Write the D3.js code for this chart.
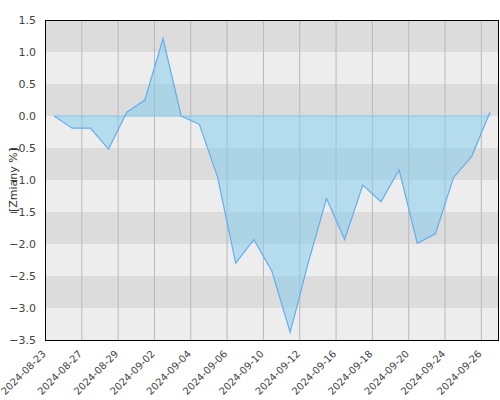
<!DOCTYPE html>
<html>
<head>
<meta charset="utf-8">
<script src="https://cdn.jsdelivr.net/npm/d3@7"></script>
<style>
  body { margin: 0; background: #fff; }
  svg text { font-family: 'DejaVu Sans', sans-serif; }
</style>
</head>
<body>
<div id="chart"></div>
<script>
// trading days shown on the x axis (one band each)
const dates = [
  '2024-08-23', '2024-08-26', '2024-08-27', '2024-08-28', '2024-08-29',
  '2024-08-30', '2024-09-02', '2024-09-03', '2024-09-04', '2024-09-05',
  '2024-09-06', '2024-09-09', '2024-09-10', '2024-09-11', '2024-09-12',
  '2024-09-13', '2024-09-16', '2024-09-17', '2024-09-18', '2024-09-19',
  '2024-09-20', '2024-09-23', '2024-09-24', '2024-09-25', '2024-09-26',
];
// daily change in %
const changes = [
  0.0, -0.19, -0.19, -0.52, 0.06,
  0.25, 1.21, 0.0, -0.13, -0.95,
  -2.3, -1.93, -2.43, -3.38, -2.29,
  -1.29, -1.93, -1.08, -1.34, -0.84,
  -1.99, -1.84, -0.96, -0.63, 0.06,
];
const yTicks = [1.5, 1.0, 0.5, 0.0, -0.5, -1.0, -1.5, -2.0, -2.5, -3.0, -3.5];
const tickDates = dates.filter((d, i) => i % 2 === 0);

const width = 500;
const height = 400;
const margin = { top: 20, right: 1, bottom: 60, left: 45 };

const svg = d3.select('#chart').append('svg').attr('width', width).attr('height', height);

const x = d3
  .scaleBand()
  .domain(dates)
  .range([margin.left, width - margin.right])
  .paddingInner(0)
  .paddingOuter(0);

const y = d3
  .scaleLinear()
  .domain([-3.5, 1.5])
  .range([height - margin.bottom, margin.top]);

const data = dates.map((d, i) => ({ date: d, value: changes[i] }));

// alternating horizontal stripes
const stripes = d3.range(yTicks.length - 1).map((i) => ({ hi: yTicks[i], lo: yTicks[i + 1], dark: i % 2 === 0 }));
svg
  .append('g')
  .selectAll('rect')
  .data(stripes)
  .join('rect')
  .attr('x', margin.left)
  .attr('y', (d) => y(d.hi))
  .attr('width', width - margin.right - margin.left)
  .attr('height', (d) => y(d.lo) - y(d.hi))
  .attr('fill', (d) => (d.dark ? '#dcdcdc' : '#ededed'));

// vertical grid lines at labelled ticks
svg
  .append('g')
  .selectAll('line')
  .data(tickDates)
  .join('line')
  .attr('x1', (d) => x(d) + 0.5)
  .attr('x2', (d) => x(d) + 0.5)
  .attr('y1', margin.top)
  .attr('y2', height - margin.bottom)
  .attr('stroke', '#b8b8b8')
  .attr('stroke-width', 1);

const cx = (d) => x(d.date) + x.bandwidth() / 2;

const area = d3
  .area()
  .x(cx)
  .y0(y(0))
  .y1((d) => y(d.value));

const line = d3
  .line()
  .x(cx)
  .y((d) => y(d.value));

svg.append('path').datum(data).attr('fill', 'rgba(135,206,235,0.55)').attr('d', area);

svg
  .append('line')
  .attr('x1', cx(data[0]))
  .attr('x2', cx(data[data.length - 1]))
  .attr('y1', y(0))
  .attr('y2', y(0))
  .attr('stroke', '#80c8ee')
  .attr('stroke-width', 1);

svg
  .append('path')
  .datum(data)
  .attr('fill', 'none')
  .attr('stroke', '#62aef0')
  .attr('stroke-width', 1.2)
  .attr('d', line);

// frame
svg
  .append('rect')
  .attr('x', margin.left + 0.5)
  .attr('y', margin.top + 0.5)
  .attr('width', width - margin.right - margin.left - 1)
  .attr('height', height - margin.bottom - margin.top)
  .attr('fill', 'none')
  .attr('stroke', '#000')
  .attr('stroke-width', 1);

// y tick labels
svg
  .append('g')
  .selectAll('text')
  .data(yTicks)
  .join('text')
  .attr('x', margin.left - 9)
  .attr('y', (d) => y(d))
  .attr('dy', '0.35em')
  .attr('text-anchor', 'end')
  .attr('fill', '#444')
  .style('font-size', '11px')
  .text(d3.format('.1f'));

// x tick labels, rotated
svg
  .append('g')
  .selectAll('text')
  .data(tickDates)
  .join('text')
  .attr('transform', (d) => `translate(${x(d) - 1}, ${height - margin.bottom + 12}) rotate(-45)`)
  .attr('text-anchor', 'end')
  .attr('dy', '0.35em')
  .attr('fill', '#444')
  .style('font-size', '10px')
  .text((d) => d);

svg
  .append('text')
  .attr('transform', `translate(13, ${(margin.top + height - margin.bottom) / 2}) rotate(-90)`)
  .attr('text-anchor', 'middle')
  .attr('dy', '0.35em')
  .attr('fill', '#333')
  .style('font-size', '11px')
  .text('[Zmiany %]');
</script>
</body>
</html>
